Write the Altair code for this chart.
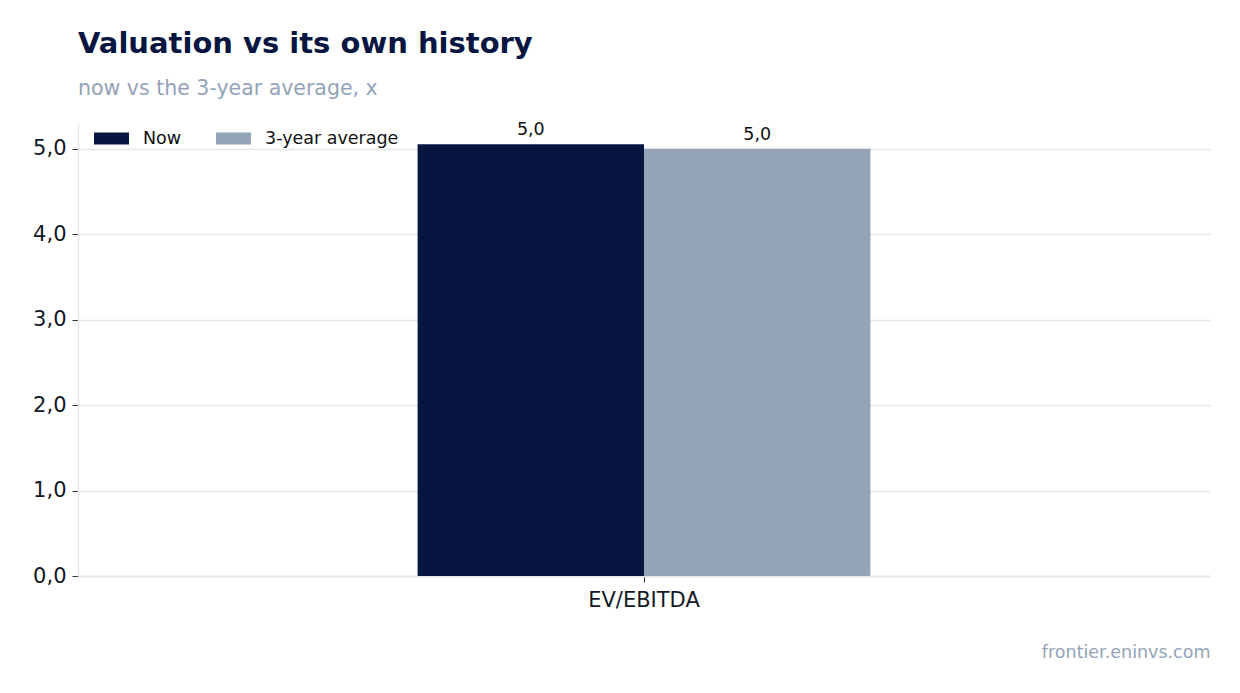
import altair as alt
import pandas as pd

metric = ["EV/EBITDA", "EV/EBITDA"]
series = ["Now", "3-year average"]
values = [5.05, 5.0]
labels = ["5,0", "5,0"]

df = pd.DataFrame({"metric": metric, "series": series, "value": values, "label": labels})

colors = ["#061641", "#94a3b8"]

x_enc = alt.X("metric:N",
              scale=alt.Scale(paddingInner=0, paddingOuter=0.75),
              axis=alt.Axis(title="frontier.eninvs.com", titleAnchor="end", titleAlign="right",
                            titleFontWeight="normal", titleColor="#94a3b8", titleFontSize=17.5,
                            titlePadding=33, labelAngle=0, labelFontSize=21, labelColor="#111827",
                            labelPadding=7, tickColor="#333333", tickSize=6,
                            domainColor="#e5e7eb", domainWidth=2, grid=False))
xoff = alt.XOffset("series:N", sort=series, scale=alt.Scale(paddingInner=0, paddingOuter=0))

base = alt.Chart(df)

bars = base.mark_bar().encode(
    x=x_enc,
    xOffset=xoff,
    y=alt.Y("value:Q", scale=alt.Scale(domain=[0, 5.3], nice=False),
            axis=alt.Axis(title=None, values=[0, 1, 2, 3, 4, 5],
                          labelExpr="replace(format(datum.value, '.1f'), '.', ',')",
                          labelFontSize=21, labelColor="#111827", tickColor="#333333",
                          tickSize=6, labelPadding=6, domainColor="#e5e7eb", domainWidth=1.5,
                          gridColor="#e5e7eb", gridWidth=1.5, minExtent=62, maxExtent=62)),
    color=alt.Color("series:N", sort=series,
                    scale=alt.Scale(domain=series, range=colors),
                    legend=alt.Legend(title=None, orient="none", legendX=16, legendY=-2,
                                      direction="horizontal",
                                      symbolType="M-1,-0.343H1V0.343H-1Z", symbolSize=1225,
                                      symbolStrokeWidth=0, labelFontSize=17.5, labelColor="#111111",
                                      labelOffset=14, columnPadding=34, padding=0)),
)

text = base.mark_text(dy=-5, fontSize=17.5, color="#111111", baseline="bottom").encode(
    x=alt.X("metric:N"),
    xOffset=xoff,
    y=alt.Y("value:Q"),
    text="label:N",
)

chart = (bars + text).properties(
    width=1132,
    height=453,
    padding={"left": 8, "top": 21, "right": 22, "bottom": 10},
    title=alt.TitleParams("Valuation vs its own history",
                          subtitle="now vs the 3-year average, x",
                          anchor="start", frame="group", fontSize=29, fontWeight="bold",
                          color="#061641", subtitleFontSize=20.5, subtitleColor="#94a3b8",
                          subtitlePadding=20, offset=22, font="DejaVu Sans",
                          subtitleFont="DejaVu Sans"),
).configure(font="DejaVu Sans").configure_view(stroke=None)

chart.save("out.html", embed_options={"renderer": "svg", "actions": False})
